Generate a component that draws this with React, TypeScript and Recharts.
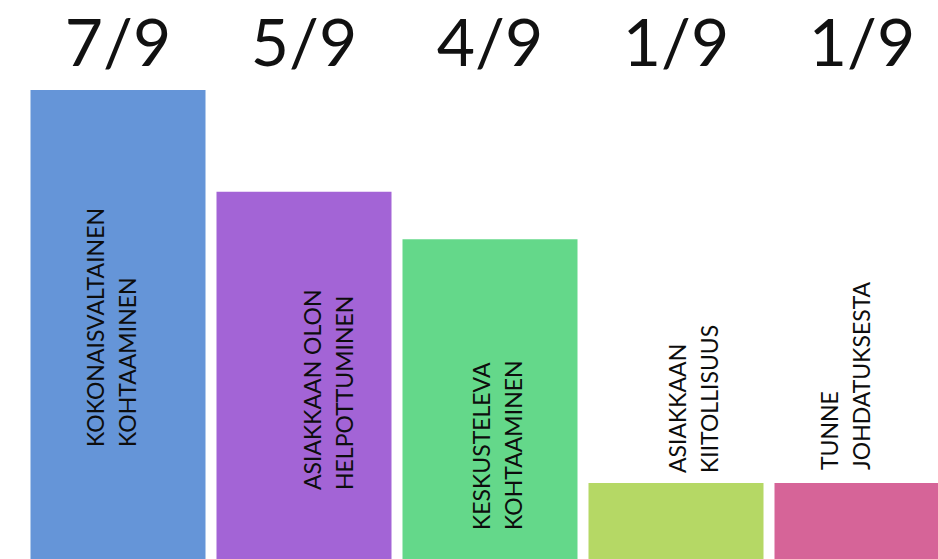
import React from "react";
import { BarChart, Bar, XAxis, YAxis, Cell, Rectangle } from "recharts";

// Themes (category names, two lines each)
const themeLine1 = ["KOKONAISVALTAINEN", "ASIAKKAAN OLON", "KESKUSTELEVA", "ASIAKKAAN", "TUNNE"];
const themeLine2 = ["KOHTAAMINEN", "HELPOTTUMINEN", "KOHTAAMINEN", "KIITOLLISUUS", "JOHDATUKSESTA"];
// Share of respondents (tick labels)
const shareLabels = ["7/9", "5/9", "4/9", "1/9", "1/9"];
// Bar heights as drawn (percent of tallest bar)
const barHeights = [100, 78.3, 68.2, 16.2, 16.2];
const barColors = ["#6595D8", "#A364D6", "#64D88A", "#B5D865", "#D66498"];

// label placement tweaks relative to bar centre / bottom (layout only)
const labelShift = [
  { dx: -6, dy: -112 },
  { dx: 25, dy: -69 },
  { dx: 8, dy: -29 },
  { dx: 18, dy: -86 },
  { dx: -16, dy: -89 },
];

const data = themeLine1.map((l1, i) => ({
  name: l1 + " " + themeLine2[i],
  line1: l1,
  line2: themeLine2[i],
  share: shareLabels[i],
  value: barHeights[i],
}));

const FONT = "Lato, 'Open Sans', sans-serif";

const BarWithText = (props: any) => {
  const { x, y, width, height, fill, index, payload } = props;
  const bottom = y + height;
  const cx = x + width / 2 + labelShift[index].dx;
  const by = bottom + labelShift[index].dy;
  const fs = 23;
  const gap = 32;
  const b1 = cx - gap / 2 + 8;
  const b2 = cx + gap / 2 + 8;
  return (
    <g>
      <Rectangle x={x} y={y} width={width} height={height} fill={fill} />
      <text
        x={b1}
        y={by}
        transform={`rotate(-90, ${b1}, ${by})`}
        fontFamily={FONT}
        fontSize={fs}
        fill="#0d0d0d"
        textAnchor="start"
      >
        {payload.line1}
      </text>
      <text
        x={b2}
        y={by}
        transform={`rotate(-90, ${b2}, ${by})`}
        fontFamily={FONT}
        fontSize={fs}
        fill="#0d0d0d"
        textAnchor="start"
      >
        {payload.line2}
      </text>
    </g>
  );
};

export default function App() {
  return (
    <div
      style={{
        position: "fixed",
        left: 0,
        top: 0,
        width: 938,
        height: 559,
        overflow: "hidden",
        background: "#ffffff",
      }}
    >
      <BarChart
        width={955}
        height={559}
        data={data}
        margin={{ top: 0, right: 0, left: 25, bottom: 0 }}
        barCategoryGap={5.5}
      >
        <XAxis
          dataKey="name"
          orientation="top"
          height={90}
          axisLine={false}
          tickLine={false}
          tickSize={0}
          tickMargin={24}
          interval={0}
          tickFormatter={(_v: any, i: number) => shareLabels[i]}
          tick={{ fontFamily: FONT, fontSize: 66, fill: "#111111" }}
        />
        <YAxis hide domain={[0, 100]} />
        <Bar dataKey="value" isAnimationActive={false} shape={<BarWithText />}>
          {data.map((d, i) => (
            <Cell key={i} fill={barColors[i]} />
          ))}
        </Bar>
      </BarChart>
    </div>
  );
}
